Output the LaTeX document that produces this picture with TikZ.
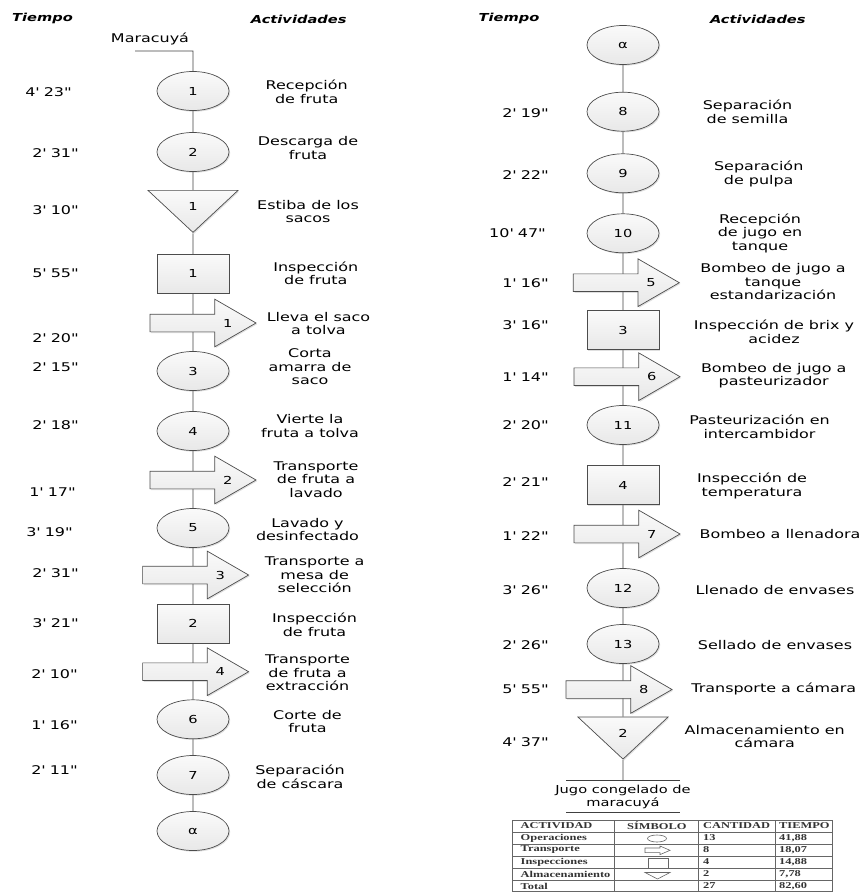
\documentclass[tikz,border=0pt]{standalone}
\usepackage{fontspec}
\usetikzlibrary{shapes.geometric,shapes.arrows,shadows,backgrounds}
\newfontfamily\diagfont[FakeStretch=1.33]{DejaVu Sans}
\newfontfamily\tablafont[FakeStretch=1.38]{Liberation Serif}
\newcommand{\dur}[2]{#1\textquotesingle\ #2\textquotesingle\textquotesingle}

\tikzset{
	figura/.style={draw=black!70, line width=0.7pt, top color=gray!4, bottom color=gray!18,
		drop shadow={opacity=0.25, shadow xshift=1.2pt, shadow yshift=-1.2pt},
		inner sep=0pt, font=\diagfont\fontsize{11}{12}\selectfont},
	oper/.style={figura, ellipse, minimum width=72pt, minimum height=39pt},
	insp/.style={figura, rectangle, minimum width=72pt, minimum height=39pt},
	alma/.style={figura, isosceles triangle, shape border rotate=270,
		isosceles triangle stretches, minimum width=90pt, minimum height=42pt, anchor=apex},
	transp/.style={figura, single arrow, single arrow tip angle=60,
		single arrow head extend=15pt, inner ysep=8.5pt, minimum height=106pt, anchor=tip},
	num/.style={font=\diagfont\fontsize{11}{12}\selectfont},
	tiempo/.style={font=\diagfont\fontsize{12}{13.5}\selectfont},
	activ/.style={font=\diagfont\fontsize{12}{13.5}\selectfont, align=center},
	titulo/.style={font=\diagfont\fontsize{11}{13}\selectfont\bfseries\itshape},
	linea/.style={draw=black!75, line width=0.75pt},
	tabla/.style={draw=black!60, line width=0.6pt},
	celda/.style={anchor=west, inner sep=0pt, font=\tablafont\fontsize{9}{10}\selectfont\bfseries, text=black!80},
}

\begin{document}
\begin{tikzpicture}[x=1pt, y=-1pt]
	\useasboundingbox (0,0) rectangle (863,896);
	% encabezados
	\node[titulo] (tiem1) at (42.5,18.5) {Tiempo};
	\node[titulo] (act1) at (298.7,19.5) {Actividades};
	\node[titulo] (tiem2) at (509,18.5) {Tiempo};
	\node[titulo] (act2) at (757.8,19.5) {Actividades};

	% columna izquierda
	\node[activ] (mara) at (150,39) {Maracuyá};
	\coordinate (ini) at (135,51);
	\node[oper] (c1) at (193,91) {1};
	\node[oper] (c2) at (193,152) {2};
	\node[alma] (e1) at (193,233.3) {1};
	\node[insp] (s1) at (193,273.7) {1};
	\node[transp] (t1) at (256.7,323) {};
	\node[num] (n1) at ([xshift=-29pt]t1.tip) {1};
	\node[oper] (c3) at (193,371) {3};
	\node[oper] (c4) at (193,431) {4};
	\node[transp] (t2) at (256.7,480) {};
	\node[num] (n2) at ([xshift=-29pt]t2.tip) {2};
	\node[oper] (c5) at (193,528) {5};
	\node[transp] (t3) at (249.3,575) {};
	\node[num] (n3) at ([xshift=-29pt]t3.tip) {3};
	\node[insp] (s2) at (193,623.7) {2};
	\node[transp] (t4) at (249.3,671.7) {};
	\node[num] (n4) at ([xshift=-29pt]t4.tip) {4};
	\node[oper] (c6) at (193,719.3) {6};
	\node[oper] (c7) at (193,775) {7};
	\node[oper] (a1) at (193,831) {α};

	\node[tiempo] (h1) at (48,92) {\dur{4}{23}};
	\node[tiempo] (h2) at (55,153) {\dur{2}{31}};
	\node[tiempo] (h3) at (55,210) {\dur{3}{10}};
	\node[tiempo] (h4) at (55,273) {\dur{5}{55}};
	\node[tiempo] (h5) at (55,338) {\dur{2}{20}};
	\node[tiempo] (h6) at (55,367) {\dur{2}{15}};
	\node[tiempo] (h7) at (55,425) {\dur{2}{18}};
	\node[tiempo] (h8) at (52,491.7) {\dur{1}{17}};
	\node[tiempo] (h9) at (49,531.7) {\dur{3}{19}};
	\node[tiempo] (h10) at (55,572.7) {\dur{2}{31}};
	\node[tiempo] (h11) at (55,622.7) {\dur{3}{21}};
	\node[tiempo] (h12) at (54,674) {\dur{2}{10}};
	\node[tiempo] (h13) at (54,725) {\dur{1}{16}};
	\node[tiempo] (h14) at (54,770) {\dur{2}{11}};

	\node[activ] (l1) at (306.7,92) {Recepción\\de fruta};
	\node[activ] (l2) at (308,148) {Descarga de\\fruta};
	\node[activ] (l3) at (308,211.5) {Estiba de los\\sacos};
	\node[activ] (l4) at (315.8,273.5) {Inspección\\de fruta};
	\node[activ] (l5) at (318.5,323.3) {Lleva el saco\\a tolva};
	\node[activ] (l6) at (310,367) {Corta\\amarra de\\saco};
	\node[activ] (l7) at (310,426) {Vierte la\\fruta a tolva};
	\node[activ] (l8) at (316,479.5) {Transporte\\de fruta a\\lavado};
	\node[activ] (l9) at (307.5,529.7) {Lavado y\\desinfectado};
	\node[activ] (l10) at (314.7,575) {Transporte a\\mesa de\\selección};
	\node[activ] (l11) at (314.5,625) {Inspección\\de fruta};
	\node[activ] (l12) at (307.5,673) {Transporte\\de fruta a\\extracción};
	\node[activ] (l13) at (307.5,721.3) {Corte de\\fruta};
	\node[activ] (l14) at (300,777) {Separación\\de cáscara};

	% columna derecha
	\node[oper] (a2) at (623,45) {α};
	\node[oper] (c8) at (623,111.7) {8};
	\node[oper] (c9) at (623,173.3) {9};
	\node[oper] (c10) at (623,233.3) {10};
	\node[transp] (t5) at (680,282.7) {};
	\node[num] (n5) at ([xshift=-29pt]t5.tip) {5};
	\node[insp] (s3) at (623,330) {3};
	\node[transp] (t6) at (680.7,376.7) {};
	\node[num] (n6) at ([xshift=-29pt]t6.tip) {6};
	\node[oper] (c11) at (623,425) {11};
	\node[insp] (s4) at (623,485) {4};
	\node[transp] (t7) at (680.7,534) {};
	\node[num] (n7) at ([xshift=-29pt]t7.tip) {7};
	\node[oper] (c12) at (623,588) {12};
	\node[oper] (c13) at (623,644) {13};
	\node[transp] (t8) at (672.7,689.5) {};
	\node[num] (n8) at ([xshift=-29pt]t8.tip) {8};
	\node[alma] (e2) at (623,760) {2};
	\coordinate (fin) at (623,780);
	\node[activ, font=\diagfont\fontsize{11}{13.5}\selectfont] (jugo) at (623,797) {Jugo congelado de\\maracuyá};

	\node[tiempo] (h15) at (525,113) {\dur{2}{19}};
	\node[tiempo] (h16) at (525,175) {\dur{2}{22}};
	\node[tiempo] (h17) at (517,233) {\dur{10}{47}};
	\node[tiempo] (h18) at (525,283.3) {\dur{1}{16}};
	\node[tiempo] (h19) at (525,325) {\dur{3}{16}};
	\node[tiempo] (h20) at (525,377.3) {\dur{1}{14}};
	\node[tiempo] (h21) at (525,425) {\dur{2}{20}};
	\node[tiempo] (h22) at (525,481.7) {\dur{2}{21}};
	\node[tiempo] (h23) at (525,536) {\dur{1}{22}};
	\node[tiempo] (h24) at (525,590) {\dur{3}{26}};
	\node[tiempo] (h25) at (525,645) {\dur{2}{26}};
	\node[tiempo] (h26) at (525,689.3) {\dur{5}{55}};
	\node[tiempo] (h27) at (525,741.7) {\dur{4}{37}};

	\node[activ] (l15) at (747.5,112) {Separación\\de semilla};
	\node[activ] (l16) at (758.7,173.7) {Separación\\de pulpa};
	\node[activ] (l17) at (760,233.3) {Recepción\\de jugo en\\tanque};
	\node[activ] (l18) at (773,281.7) {Bombeo de jugo a\\tanque\\estandarización};
	\node[activ] (l19) at (774,331.7) {Inspección de brix y\\acidez};
	\node[activ] (l20) at (773.7,375.5) {Bombeo de jugo a\\pasteurizador};
	\node[activ] (l21) at (759.5,427) {Pasteurización en\\intercambidor};
	\node[activ] (l22) at (752,485.7) {Inspección de\\temperatura};
	\node[activ] (l23) at (780,534) {Bombeo a llenadora};
	\node[activ] (l24) at (775,590) {Llenado de envases};
	\node[activ] (l25) at (775,645) {Sellado de envases};
	\node[activ] (l26) at (773.8,689.3) {Transporte a cámara};
	\node[activ] (l27) at (764.7,736.7) {Almacenamiento en\\cámara};

	% lineas de flujo
	\begin{scope}[on background layer]
		\draw[linea] (ini) -- (c1 |- ini) -- (c1) -- (c2) -- (e1) -- (s1) -- (c1 |- t1)
			-- (c3) -- (c4) -- (c1 |- t2) -- (c5) -- (c1 |- t3) -- (s2) -- (c1 |- t4)
			-- (c6) -- (c7) -- (a1);
		\draw[linea] (a2) -- (c8) -- (c9) -- (c10) -- (a2 |- t5) -- (s3) -- (a2 |- t6)
			-- (c11) -- (s4) -- (a2 |- t7) -- (c12) -- (c13) -- (a2 |- t8) -- (e2) -- (fin);
	\end{scope}
	\draw[linea] ([xshift=-57pt]fin) -- ([xshift=57pt]fin);
	\draw[linea, line width=0.6pt] ([xshift=-57pt]fin |- jugo.south) -- ([xshift=57pt]fin |- jugo.south);

	% tabla resumen
	\draw[tabla] (512,820) rectangle (832,891.7);
	\foreach \y in {832,844,856,868,880}
		\draw[tabla] (512,\y) -- (832,\y);
	\foreach \x in {614,698,775}
		\draw[tabla] (\x,820) -- (\x,891.7);
	\node[celda] (cab1) at (520.5,826) {ACTIVIDAD};
	\node[celda] (cab2) at (627,826) {SÍMBOLO};
	\node[celda] (cab3) at (703,826) {CANTIDAD};
	\node[celda] (cab4) at (779,826) {TIEMPO};
	\foreach \act/\can/\tie [count=\i] in {Operaciones/13/{41,88}, Transporte/8/{18,07},
		Inspecciones/4/{14,88}, Almacenamiento/2/{7,78}, Total/27/{82,60}}{
		\node[celda] (fa\i) at (520.5,826+12*\i) {\act};
		\node[celda] (fc\i) at (703,826+12*\i) {\can};
		\node[celda] (ft\i) at (779,826+12*\i) {\tie};
	}
	\draw[tabla] (657,838.5) ellipse [x radius=9.5, y radius=3.5];
	\draw[tabla] (645,848) -- (660,848) -- (660,846) -- (670,850.3) -- (660,854.6) -- (660,852.6) -- (645,852.6) -- cycle;
	\draw[tabla] (648,858.5) rectangle (668,868);
	\draw[tabla] (645,872.5) -- (670,872.5) -- (657.5,879) -- cycle;
\end{tikzpicture}
\end{document}
